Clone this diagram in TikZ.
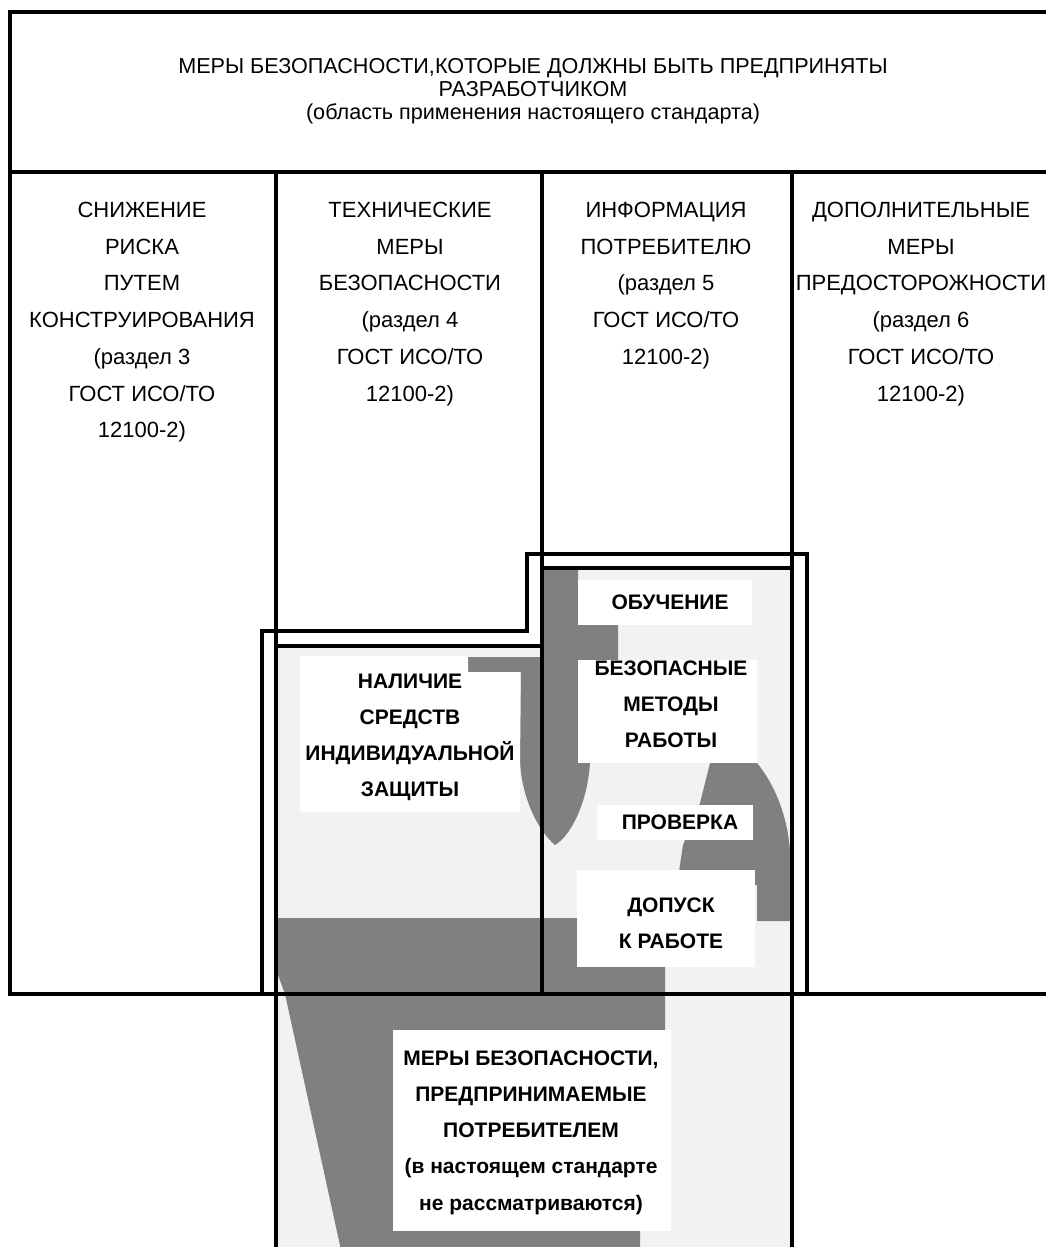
\documentclass[tikz,border=0pt]{standalone}
\usepackage{fontspec}
\setmainfont{Liberation Sans}
\begin{document}
\begin{tikzpicture}[x=1pt,y=-1pt,
  frame/.style={line width=3.2pt, line join=miter},
  lightfill/.style={fill=black!5},
  darkfill/.style={fill=black!50},
  plainfill/.style={fill=white},
  titletext/.style={font=\fontsize{21.6}{23}\selectfont, align=center, inner sep=0pt, anchor=north},
  coltext/.style={font=\fontsize{22}{36.7}\selectfont, align=center, inner sep=0pt, anchor=north},
  labeltext/.style={font=\bfseries\fontsize{21}{36.2}\selectfont, align=center, inner sep=0pt, anchor=north}]
\useasboundingbox (0,0) rectangle (1046,1247);
\clip (0,0) rectangle (1046,1247);
\fill[white] (0,0) rectangle (1046,1247);

% light textured areas
\fill[lightfill] (277,646) rectangle (542,994);
\fill[lightfill] (542,568) rectangle (792,994);
\fill[lightfill] (276,994) rectangle (792,1250);

% dark textured areas
\fill[darkfill] (542,568) -- (578,568) -- (578,624) -- (618,624) -- (618,660) -- (578,660)
  -- (578,762) -- (590,762) .. controls (588,800) and (572,835) .. (555,845)
  .. controls (537,830) and (521,795) .. (520,760) -- (521,672) -- (468,672) -- (468,657) -- (542,657) -- cycle;
\fill[darkfill] (710,763) -- (757,763) .. controls (775,785) and (787,815) .. (790,850)
  -- (790,921) -- (757,921) -- (757,885) -- (677,885) -- (683,845) -- (700,803) -- cycle;
\fill[darkfill] (278,918) -- (577,918) -- (577,967) -- (665,967) -- (665,1030) -- (640,1030)
  -- (640,1250) -- (341,1250) -- (285,994) -- (278,975) -- cycle;

% white label grounds
\fill[plainfill] (578,580) rectangle (752,625);
\fill[plainfill] (578,660) rectangle (757,763);
\fill[plainfill] (597,805) rectangle (753,840);
\fill[plainfill] (577,870) rectangle (755,967);
\fill[plainfill] (300,656) -- (468,656) -- (468,672) -- (520,672) -- (520,812) -- (300,812) -- cycle;
\fill[plainfill] (393,1030) rectangle (671,1231);

% frame lines
\draw[frame] (1052,12) -- (10,12) -- (10,994) -- (1052,994);
\draw[frame] (10,172) -- (1052,172);
\draw[frame] (276,172) -- (276,1252);
\draw[frame] (542,172) -- (542,994);
\draw[frame] (792,172) -- (792,1252);
\draw[frame] (262,994) -- (262,631) -- (527,631) -- (527,554) -- (807,554) -- (807,994);
\draw[frame] (276,646) -- (542,646);
\draw[frame] (542,568) -- (792,568);

% texts
\node[titletext] (title) at (533,58.3) {МЕРЫ БЕЗОПАСНОСТИ,КОТОРЫЕ ДОЛЖНЫ БЫТЬ ПРЕДПРИНЯТЫ\\РАЗРАБОТЧИКОМ\\(область применения настоящего стандарта)};

\node[coltext] (c1) at (142,202) {СНИЖЕНИЕ\\РИСКА\\ПУТЕМ\\КОНСТРУИРОВАНИЯ\\(раздел 3\\ГОСТ ИСО/ТО\\12100-2)};
\node[coltext] (c2) at (410,202) {ТЕХНИЧЕСКИЕ\\МЕРЫ\\БЕЗОПАСНОСТИ\\(раздел 4\\ГОСТ ИСО/ТО\\12100-2)};
\node[coltext] (c3) at (666,202) {ИНФОРМАЦИЯ\\ПОТРЕБИТЕЛЮ\\(раздел 5\\ГОСТ ИСО/ТО\\12100-2)};
\node[coltext] (c4) at (921,202) {ДОПОЛНИТЕЛЬНЫЕ\\МЕРЫ\\ПРЕДОСТОРОЖНОСТИ\\(раздел 6\\ГОСТ ИСО/ТО\\12100-2)};

\node[labeltext] (obu) at (670,594.5) {ОБУЧЕНИЕ};
\node[labeltext] (bez) at (671,660.5) {БЕЗОПАСНЫЕ\\МЕТОДЫ\\РАБОТЫ};
\node[labeltext] (pro) at (680,814.5) {ПРОВЕРКА};
\node[labeltext] (dop) at (671,897.5) {ДОПУСК\\К РАБОТЕ};
\node[labeltext] (nal) at (410,673.5) {НАЛИЧИЕ\\СРЕДСТВ\\ИНДИВИДУАЛЬНОЙ\\ЗАЩИТЫ};
\node[labeltext] (cons) at (531,1050.5) {МЕРЫ БЕЗОПАСНОСТИ,\\ПРЕДПРИНИМАЕМЫЕ\\ПОТРЕБИТЕЛЕМ\\(в настоящем стандарте\\не рассматриваются)};
\end{tikzpicture}
\end{document}
